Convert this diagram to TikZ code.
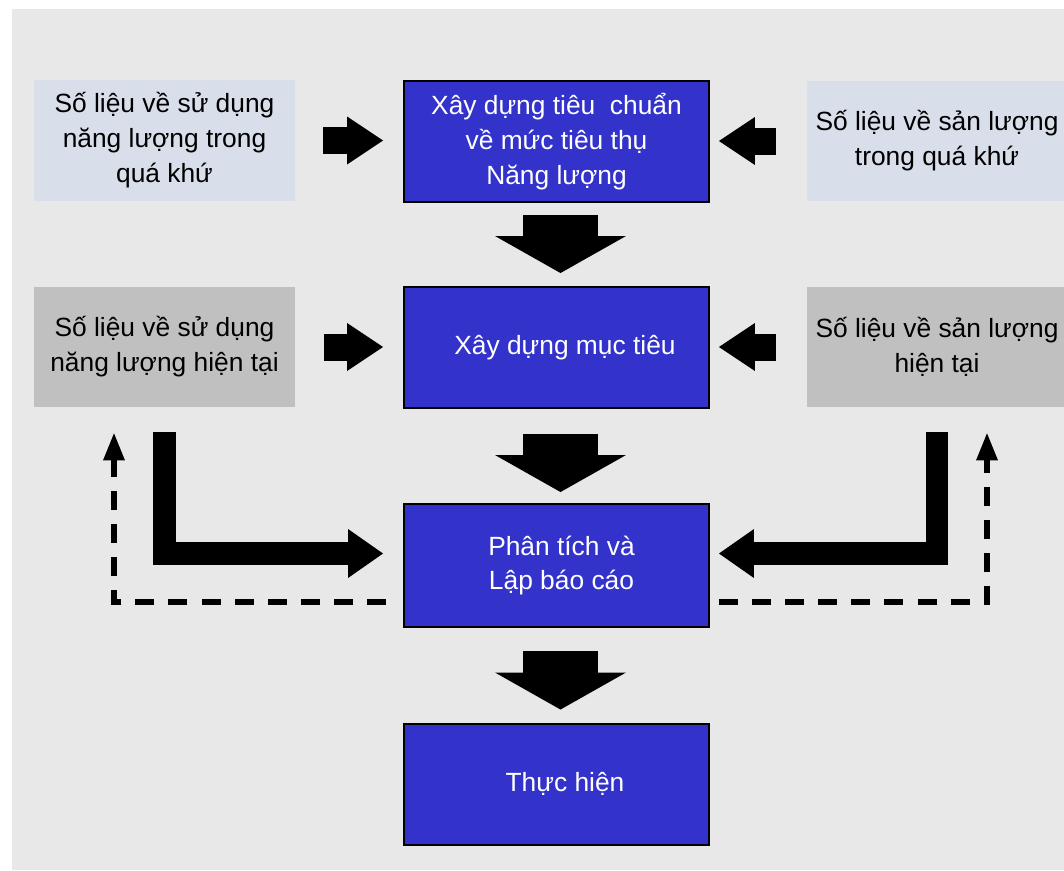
\documentclass[tikz,border=0pt]{standalone}
\usepackage{fontspec}
\setmainfont{Liberation Sans}
\usetikzlibrary{arrows.meta,calc}

\definecolor{panel}{RGB}{232,232,232}
\definecolor{pastfill}{RGB}{216,222,234}
\definecolor{nowfill}{RGB}{192,192,192}
\definecolor{stepblue}{RGB}{51,51,204}

\begin{document}
\begin{tikzpicture}[x=0.02cm, y=-0.02cm,
    every node/.style={font=\fontsize{15}{19.9}\selectfont, align=center},
    pastdata/.style={fill=pastfill, minimum width=5.22cm, minimum height=2.42cm},
    nowdata/.style={fill=nowfill, minimum width=5.22cm, minimum height=2.4cm},
    stepbox/.style={fill=stepblue, draw=black, line width=0.04cm, text=white, minimum width=6.1cm, minimum height=2.42cm},
    fatside/.style={line width=0.54cm, -{Triangle[length=0.72cm, width=0.96cm, line width=0pt]}},
    fatdown/.style={line width=1.5cm, -{Triangle[length=0.74cm, width=2.62cm, line width=0pt]}},
    fatbend/.style={line width=0.45cm, -{Triangle[length=0.7cm, width=0.98cm, line width=0pt]}},
    backflow/.style={line width=0.11cm, dash pattern=on 0.38cm off 0.282cm, -{Triangle[length=0.54cm, width=0.44cm, line width=0pt]}}]

   \useasboundingbox (0,0) rectangle (1064,870);
   \fill[white] (0,0) rectangle (1064,870);
   \fill[panel] (12,9) rectangle (1064,870);

   %data boxes
   \node[pastdata] (pastuse) at (164.5,140.5) {Số liệu về sử dụng\\năng lượng trong\\quá khứ};
   \node[pastdata] (pastout) at (937,141) {Số liệu về sản lượng\\trong quá khứ};
   \node[nowdata] (nowuse) at (164.5,347) {Số liệu về sử dụng\\năng lượng hiện tại};
   \node[nowdata] (nowout) at (937,347) {Số liệu về sản lượng\\hiện tại};

   %steps
   \node[stepbox] (norm) at (556.5,141.5) {Xây dựng tiêu\ \ chuẩn\\về mức tiêu thụ\\Năng lượng};
   \node[stepbox] (target) at (556.5,347.5) {\hspace*{0.34cm}Xây dựng mục tiêu};
   \node[stepbox, minimum height=2.46cm] (report) at (556.5,565.5) {\hspace*{0.2cm}Phân tích và\\\hspace*{0.2cm}Lập báo cáo};
   \node[stepbox] (act) at (556.5,784) {\hspace*{0.34cm}Thực hiện};

   %side arrows
   \draw[fatside, shorten <=0.56cm, shorten >=0.4cm] (pastuse.east) -- (pastuse.east -| norm.west);
   \draw[fatside, shorten <=0.6cm, shorten >=0.18cm] (pastout.west) -- (pastout.west -| norm.east);
   \draw[fatside, shorten <=0.58cm, shorten >=0.4cm] (nowuse.east) -- (nowuse.east -| target.west);
   \draw[fatside, shorten <=0.6cm, shorten >=0.18cm] (nowout.west) -- (nowout.west -| target.east);

   %down arrows
   \draw[fatdown, shorten <=0.24cm, shorten >=0.26cm] ([xshift=0.08cm]norm.south) -- ([xshift=0.08cm]target.north);
   \draw[fatdown, shorten <=0.5cm, shorten >=0.22cm] ([xshift=0.08cm]target.south) -- ([xshift=0.08cm]report.north);
   \draw[fatdown, shorten <=0.46cm, shorten >=0.26cm] ([xshift=0.08cm]report.south) -- ([xshift=0.08cm]act.north);

   %bent arrows
   \draw[fatbend] ([yshift=-0.5cm]nowuse.south) |- ($(report.west)+(-20,-12)$);
   \draw[fatbend] ([yshift=-0.5cm]nowout.south) |- ($(report.east)+(9,-12)$);

   %feedback
   \draw[backflow] ($(report.west)+(-17,36.5)$) -| ($(nowuse.south)+(-50.5,26)$);
   \draw[backflow] ($(report.east)+(9,36.5)$) -| ($(nowout.south)+(50,26)$);

\end{tikzpicture}
\end{document}
